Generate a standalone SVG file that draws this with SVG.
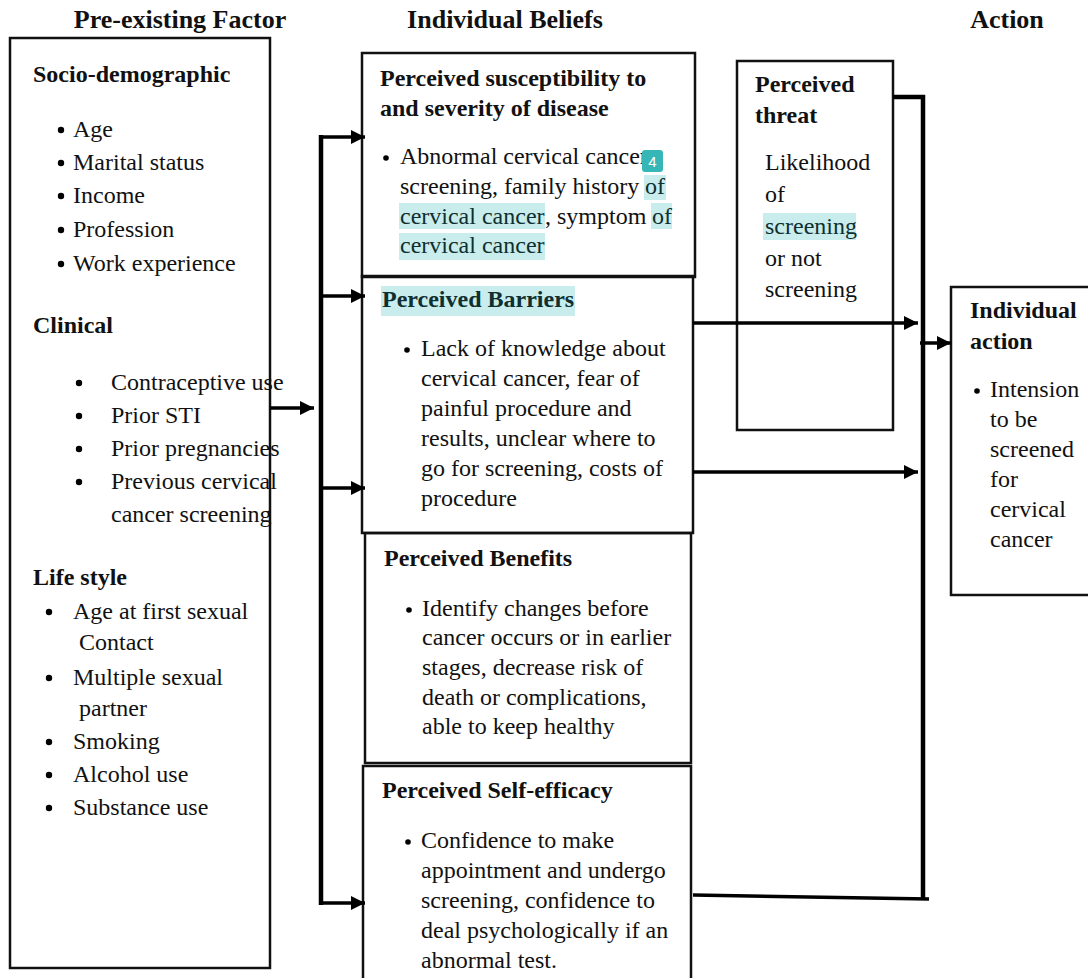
<svg xmlns="http://www.w3.org/2000/svg" width="1088" height="978" viewBox="0 0 1088 978">
<style>
text{font-family:"Liberation Serif","Times New Roman",serif;font-size:24px;fill:#111}
.h{font-weight:bold;font-size:26px}
.b{font-weight:bold}
.box{fill:none;stroke:#111;stroke-width:2.5}
.hl{fill:#c9eded}
.hlt{fill:#0f2f30}
.ln{fill:none;stroke:#000;stroke-width:3.5}
.thk{fill:none;stroke:#000;stroke-width:4.5}
.badge{font-family:"Liberation Sans",Arial,sans-serif;font-size:15px;fill:#fff}
</style>
<defs>
<marker id="ah" viewBox="0 0 10 10" refX="10" refY="5" markerWidth="4" markerHeight="4" markerUnits="strokeWidth" orient="auto">
<path d="M0,0 L10,5 L0,10 z" fill="#000"/>
</marker>
</defs>
<rect width="1088" height="978" fill="#fff"/>

<g id="headers">
<text class="h" x="180" y="28" text-anchor="middle">Pre-existing Factor</text>
<text class="h" x="505" y="28" text-anchor="middle">Individual Beliefs</text>
<text class="h" x="1007" y="28" text-anchor="middle">Action</text>
</g>

<g id="preexisting">
<rect class="box" x="10" y="38" width="260" height="930"/>
<text class="b" x="33" y="82">Socio-demographic</text>
<g>
<circle cx="61" cy="130" r="3.2"/><text x="73" y="137">Age</text>
<circle cx="61" cy="163" r="3.2"/><text x="73" y="170">Marital status</text>
<circle cx="61" cy="196" r="3.2"/><text x="73" y="203">Income</text>
<circle cx="61" cy="230" r="3.2"/><text x="73" y="237">Profession</text>
<circle cx="61" cy="264" r="3.2"/><text x="73" y="271">Work experience</text>
</g>
<text class="b" x="33" y="333">Clinical</text>
<g>
<circle cx="79" cy="383" r="3.2"/><text x="111" y="390">Contraceptive use</text>
<circle cx="79" cy="416" r="3.2"/><text x="111" y="423">Prior STI</text>
<circle cx="79" cy="449" r="3.2"/><text x="111" y="456">Prior pregnancies</text>
<circle cx="79" cy="482" r="3.2"/><text x="111" y="489">Previous cervical</text>
<text x="111" y="522">cancer screening</text>
</g>
<text class="b" x="33" y="585">Life style</text>
<g>
<circle cx="49" cy="612" r="3.2"/><text x="73" y="619">Age at first sexual</text>
<text x="79" y="650">Contact</text>
<circle cx="49" cy="678" r="3.2"/><text x="73" y="685">Multiple sexual</text>
<text x="79" y="716">partner</text>
<circle cx="49" cy="742" r="3.2"/><text x="73" y="749">Smoking</text>
<circle cx="49" cy="775" r="3.2"/><text x="73" y="782">Alcohol use</text>
<circle cx="49" cy="808" r="3.2"/><text x="73" y="815">Substance use</text>
</g>
</g>

<g id="susceptibility">
<rect class="box" x="362" y="53" width="333" height="224"/>
<text class="b" x="380" y="86">Perceived susceptibility to</text>
<text class="b" x="380" y="116">and severity of disease</text>
<rect class="hl" x="644" y="175" width="22" height="25"/>
<rect class="hl" x="399" y="203" width="146" height="26"/>
<rect class="hl" x="651" y="203" width="21" height="26"/>
<rect class="hl" x="399" y="233" width="146" height="27"/>
<circle cx="386" cy="158" r="2.8"/>
<text x="400" y="164">Abnormal cervical cancer</text>
<text x="400" y="194">screening, family history</text>
<text x="645" y="194" class="hlt">of</text>
<text x="400" y="224" class="hlt">cervical cancer</text>
<text x="545" y="224">, symptom</text>
<text x="652" y="224" class="hlt">of</text>
<text x="400" y="253" class="hlt">cervical cancer</text>
<rect x="642" y="150" width="21" height="22" rx="3" fill="#36b6b6"/>
<text class="badge" x="652.5" y="166.5" text-anchor="middle">4</text>
</g>

<g id="barriers">
<rect class="box" x="362" y="276" width="331" height="257"/>
<rect class="hl" x="381" y="286" width="194" height="30"/>
<text class="b hlt" x="382" y="307">Perceived Barriers</text>
<circle cx="407" cy="350" r="2.8"/>
<text x="421" y="356">Lack of knowledge about</text>
<text x="421" y="386">cervical cancer, fear of</text>
<text x="421" y="416">painful procedure and</text>
<text x="421" y="446">results, unclear where to</text>
<text x="421" y="476">go for screening, costs of</text>
<text x="421" y="506">procedure</text>
</g>

<g id="benefits">
<rect class="box" x="365" y="533" width="326" height="230"/>
<text class="b" x="384" y="566">Perceived Benefits</text>
<circle cx="409" cy="610" r="2.8"/>
<text x="422" y="616">Identify changes before</text>
<text x="422" y="645">cancer occurs or in earlier</text>
<text x="422" y="675">stages, decrease risk of</text>
<text x="422" y="705">death or complications,</text>
<text x="422" y="734">able to keep healthy</text>
</g>

<g id="selfefficacy">
<rect class="box" x="363" y="766" width="328" height="230"/>
<text class="b" x="382" y="798">Perceived Self-efficacy</text>
<circle cx="408" cy="842" r="2.8"/>
<text x="421" y="848">Confidence to make</text>
<text x="421" y="878">appointment and undergo</text>
<text x="421" y="908">screening, confidence to</text>
<text x="421" y="938">deal psychologically if an</text>
<text x="421" y="968">abnormal test.</text>
</g>

<g id="threat">
<rect class="box" x="737" y="61" width="156" height="369"/>
<text class="b" x="755" y="92">Perceived</text>
<text class="b" x="755" y="123">threat</text>
<text x="765" y="170">Likelihood</text>
<text x="765" y="202">of</text>
<rect class="hl" x="763" y="213" width="93" height="27"/>
<text x="765" y="234" class="hlt">screening</text>
<text x="765" y="266">or not</text>
<text x="765" y="297">screening</text>
</g>

<g id="action">
<rect class="box" x="951" y="287" width="145" height="308"/>
<text class="b" x="970" y="318">Individual</text>
<text class="b" x="970" y="349">action</text>
<circle cx="977" cy="391" r="2.8"/>
<text x="990" y="397">Intension</text>
<text x="990" y="427">to be</text>
<text x="990" y="457">screened</text>
<text x="990" y="487">for</text>
<text x="990" y="517">cervical</text>
<text x="990" y="547">cancer</text>
</g>

<g id="connectors">
<line class="ln" x1="270" y1="408" x2="314" y2="408" marker-end="url(#ah)"/>
<line class="thk" x1="321" y1="135" x2="321" y2="905"/>
<line class="ln" x1="319" y1="137" x2="365" y2="137" marker-end="url(#ah)"/>
<line class="ln" x1="321" y1="296" x2="365" y2="296" marker-end="url(#ah)"/>
<line class="ln" x1="321" y1="488" x2="365" y2="488" marker-end="url(#ah)"/>
<line class="ln" x1="319" y1="903" x2="365" y2="903" marker-end="url(#ah)"/>
<line class="ln" x1="693" y1="323" x2="918" y2="323" marker-end="url(#ah)"/>
<line class="ln" x1="693" y1="472" x2="918" y2="472" marker-end="url(#ah)"/>
<polyline class="thk" points="893,97 923,97 923,900"/>
<line class="ln" x1="693" y1="895" x2="929" y2="899"/>
<line class="ln" x1="920" y1="343" x2="951" y2="343" marker-end="url(#ah)"/>
</g>
</svg>
